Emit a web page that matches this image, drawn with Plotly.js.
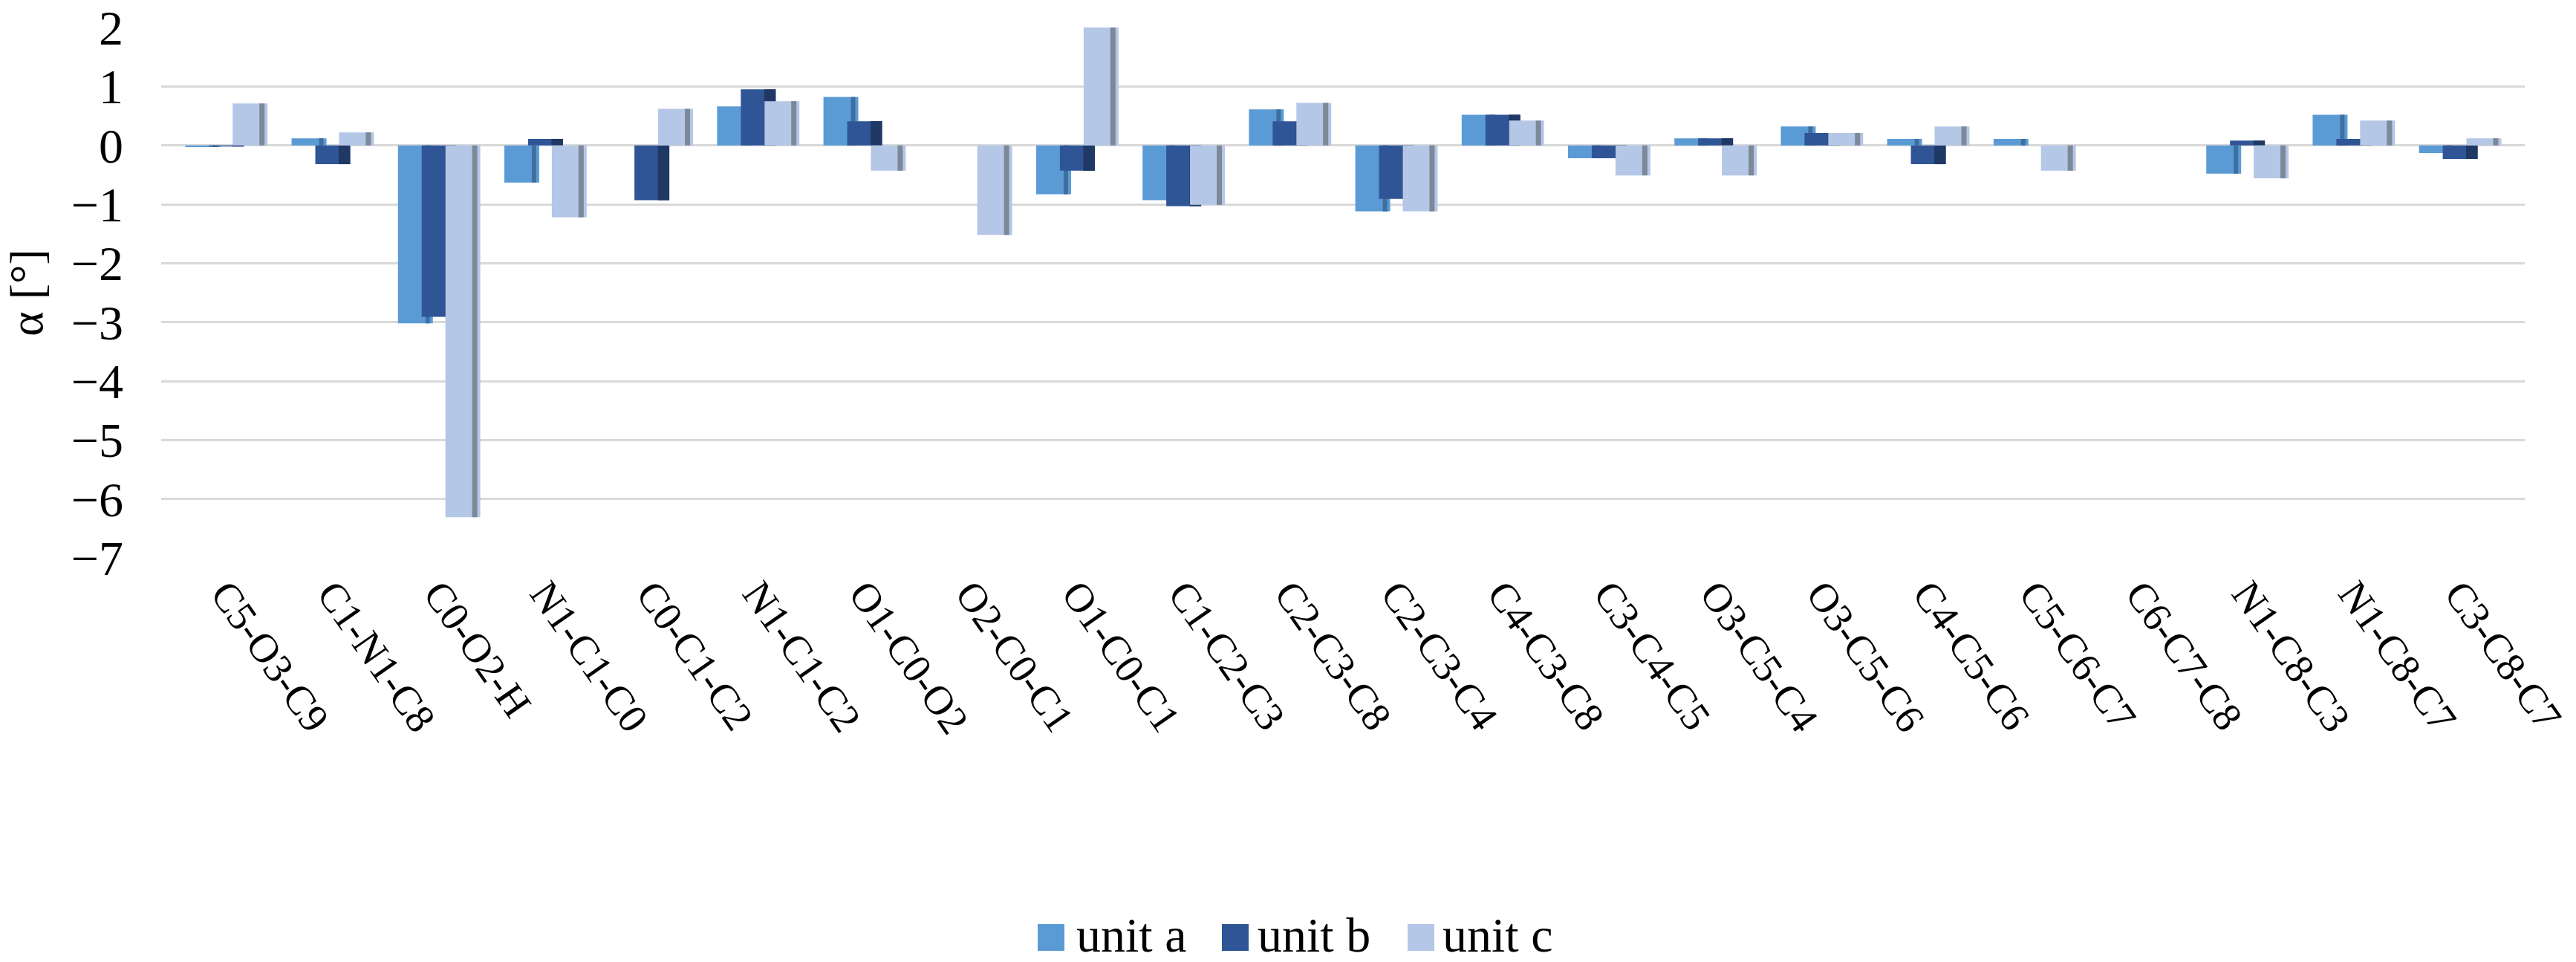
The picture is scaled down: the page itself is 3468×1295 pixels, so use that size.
<!DOCTYPE html>
<html>
<head>
<meta charset="utf-8">
<script src="https://cdn.plot.ly/plotly-3.0.1.min.js"></script>
<style>html,body{margin:0;padding:0;background:#fff;}#chart{width:3468px;height:1295px;}</style>
</head>
<body>
<div id="chart"></div>
<script>
// ---- data ----
var categories = ["C5-O3-C9","C1-N1-C8","C0-O2-H","N1-C1-C0","C0-C1-C2","N1-C1-C2","O1-C0-O2","O2-C0-C1","O1-C0-C1","C1-C2-C3","C2-C3-C8","C2-C3-C4","C4-C3-C8","C3-C4-C5","O3-C5-C4","O3-C5-C6","C4-C5-C6","C5-C6-C7","C6-C7-C8","N1-C8-C3","N1-C8-C7","C3-C8-C7"];
var unitA = [-0.03, 0.12, -3.02, -0.63, 0.00, 0.66, 0.82, 0.00, -0.83, -0.93, 0.61, -1.12, 0.52, -0.22, 0.12, 0.32, 0.11, 0.11, 0.00, -0.48, 0.52, -0.13];
var unitB = [-0.02, -0.32, -2.91, 0.11, -0.93, 0.95, 0.41, 0.00, -0.43, -1.03, 0.41, -0.91, 0.52, -0.22, 0.12, 0.21, -0.32, 0.00, 0.00, 0.08, 0.11, -0.23];
var unitC = [0.71, 0.22, -6.31, -1.22, 0.62, 0.75, -0.43, -1.52, 2.00, -1.01, 0.72, -1.12, 0.42, -0.51, -0.51, 0.21, 0.32, -0.43, 0.00, -0.56, 0.42, 0.12];
var seriesNames = ["unit a", "unit b", "unit c"];
var yTickVals = [2, 1, 0, -1, -2, -3, -4, -5, -6, -7];
var yTitle = "α [°]";

// ---- styling ----
var FONT = "Liberation Serif, Times New Roman, serif";
var colors = ["#5b9bd5", "#2f5597", "#b4c7e7"];
var shadeColors = ["#3f6f9f", "#1f3864", "#7d8898"];
var barW = 0.328;
var barOffsets = [-0.384, -0.161, 0.062];
var shadeOffsets = [-0.126, 0.059, 0.313];
var shadeWidths = [0.042, 0.108, 0.049];

var series = [unitA, unitB, unitC];
var traces = [];
for (var s = 0; s < 3; s++) {
  traces.push({
    type: "bar", x: categories, y: series[s], name: seriesNames[s],
    width: barW, offset: barOffsets[s],
    marker: {color: colors[s], line: {width: 0}},
    showlegend: false, hoverinfo: "skip"
  });
  traces.push({
    type: "bar", x: categories, y: series[s], name: seriesNames[s] + " shade",
    width: shadeWidths[s], offset: shadeOffsets[s],
    marker: {color: shadeColors[s], line: {width: 0}},
    showlegend: false, hoverinfo: "skip"
  });
}

// plot area in pixels
var W = 3468, H = 1295, L = 217, R = 69, T = 37, B = 544;
var PW = W - L - R, PH = H - T - B;
function px2x(px) { return (px - L) / PW; }
function py2y(py) { return (H - B - py) / PH; }

// manual legend (large swatches like the reference)
var swatchLeft = [1397, 1645, 1895];
var textLeft = [1447, 1691, 1940];
var swTop = 1244, swBot = 1280;
var shapes = [], annotations = [];
for (var i = 0; i < 3; i++) {
  shapes.push({
    type: "rect", xref: "paper", yref: "paper",
    x0: px2x(swatchLeft[i]), x1: px2x(swatchLeft[i] + 36),
    y0: py2y(swBot), y1: py2y(swTop),
    fillcolor: colors[i], line: {width: 0}
  });
  annotations.push({
    xref: "paper", yref: "paper", x: px2x(textLeft[i]), y: py2y(1258),
    xanchor: "left", yanchor: "middle", showarrow: false,
    text: seriesNames[i], font: {family: FONT, size: 66, color: "#000"}
  });
}

var layout = {
  width: W, height: H,
  margin: {l: L, r: R, t: T, b: B, pad: 0},
  paper_bgcolor: "#fff", plot_bgcolor: "#fff",
  barmode: "overlay",
  showlegend: false,
  font: {family: FONT, color: "#000"},
  xaxis: {
    type: "category", range: [-0.61, 21.61],
    tickangle: 55, tickfont: {family: FONT, size: 55, color: "#000"},
    showgrid: false, showline: false, ticks: "", zeroline: false,
    ticklabelstandoff: 4
  },
  yaxis: {
    range: [-7, 2], tickvals: yTickVals,
    tickfont: {family: FONT, size: 66, color: "#000"},
    showgrid: true, gridcolor: "#d9d9d9", gridwidth: 3,
    zeroline: true, zerolinecolor: "#d9d9d9", zerolinewidth: 3,
    showline: false, ticks: "", ticklabelstandoff: 50,
    title: {text: yTitle, font: {family: FONT, size: 64, color: "#000"}, standoff: 24}
  },
  shapes: shapes,
  annotations: annotations
};

Plotly.newPlot("chart", traces, layout, {staticPlot: true, displayModeBar: false});
</script>
</body>
</html>
